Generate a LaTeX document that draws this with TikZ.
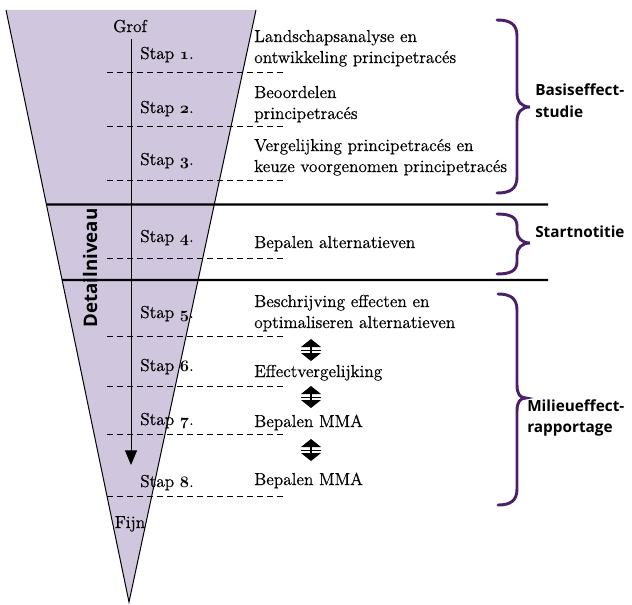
\documentclass[tikz,border=0pt]{standalone}
\usepackage{fontspec}
\newfontfamily\labelsans{Open Sans}
\newfontfamily\darkserif{Latin Modern Roman}[FakeBold=0.5]
\usetikzlibrary{arrows.meta,calc}
\definecolor{funnel}{HTML}{D0C7DE}
\definecolor{bracepurple}{HTML}{4B206B}
\newcommand{\osn}[1]{{\usefont{OML}{cmm}{b}{it}#1}}
\tikzset{
  serif/.style={font=\darkserif\fontsize{13}{15.75}\selectfont, inner sep=0pt},
  txt/.style={serif, anchor=base west},
  lab/.style={font=\labelsans\bfseries\fontsize{11.5}{16}\selectfont, inner sep=0pt, anchor=base west},
  dashline/.style={line width=0.75pt, dash pattern=on 4.5pt off 3pt},
  heavy/.style={line width=1.8pt},
  brc/.style={draw=bracepurple, line width=2.2pt, line cap=round},
  updown/.pic={
    \fill (-10,-3) -- (10,-3) -- (0,-11) -- cycle;
    \fill (-10,3) -- (10,3) -- (0,11) -- cycle;
    \draw[line width=0.6pt] (-10,0) -- (10,0);
    \draw[line width=0.8pt] (0,-3) -- (0,3);
  }
}
\begin{document}
\begin{tikzpicture}[x=0.75pt,y=-0.75pt]
\useasboundingbox (0,0) rectangle (632,604);
% funnel
\coordinate (tl) at (6,10);
\coordinate (tr) at (256,10);
\coordinate (apex) at (129,602);
\fill[funnel] (tl) -- (tr) -- (apex) -- cycle;
\draw[line width=0.75pt] (tl) -- (apex) -- (tr);
% dashed lines
\foreach \i/\yy in {1/72,2/126,3/180,4/258,5/336,6/386,7/434,8/496}{
  \coordinate (dL\i) at (107,\yy);
  \coordinate (dR\i) at (287,\yy);
  \draw[dashline] (dL\i) -- (dR\i);
}
% solid lines
\coordinate (s1l) at ($(tl)!0.3285!(apex)$);
\coordinate (s1r) at (548,204.5);
\coordinate (s2l) at ($(tl)!0.4561!(apex)$);
\coordinate (s2r) at (548,280);
\draw[heavy] (s1l) -- (s1r);
\draw[heavy] (s2l) -- (s2r);
% vertical arrow
\coordinate (vtop) at (131,39);
\coordinate (vtip) at (131,465);
\draw[line width=0.75pt, -{Triangle[width=9pt,length=11pt]}] (vtop) -- (vtip);
% Detailniveau
\node[font=\labelsans\bfseries\fontsize{14}{16}\selectfont, inner sep=0pt, rotate=90] (detail) at (90,268) {Detailniveau};
% Grof / Fijn
\node[serif, anchor=base] (grof) at (130,32) {Grof};
\node[serif, anchor=base] (fijn) at (130,528) {Fijn};
% Stap labels
\node[txt] (st1) at (140,59) {Stap \osn{1}.};
\node[txt] (st2) at (140,113) {Stap \osn{2}.};
\node[txt] (st3) at (140,165) {Stap \osn{3}.};
\node[txt] (st4) at (140,242) {Stap \osn{4}.};
\node[txt] (st5) at (140,318) {Stap \osn{5}.};
\node[txt] (st6) at (140,371) {Stap \osn{6}.};
\node[txt] (st7) at (140,425) {Stap \osn{7}.};
\node[txt] (st8) at (140,487) {Stap \osn{8}.};
% right texts
\node[txt] (r1a) at (254,42) {Landschapsanalyse en};
\node[txt] (r1b) at (254,63) {ontwikkeling principetracés};
\node[txt] (r2a) at (254,98) {Beoordelen};
\node[txt] (r2b) at (254,119) {principetracés};
\node[txt] (r3a) at (254,151) {Vergelijking principetracés en};
\node[txt] (r3b) at (254,172) {keuze voorgenomen principetracés};
\node[txt] (r4) at (254,248) {Bepalen alternatieven};
\node[txt] (r5a) at (254,307) {Beschrijving effecten en};
\node[txt] (r5b) at (254,328) {optimaliseren alternatieven};
\node[txt] (r6) at (254,377) {Effectvergelijking};
\node[txt] (r7) at (254,427) {Bepalen MMA};
\node[txt] (r8) at (254,485) {Bepalen MMA};
% double arrows
\pic (da1) at (311,350) {updown};
\pic (da2) at (311,397) {updown};
\pic (da3) at (311,450) {updown};
% braces
\draw[brc] (497,20) .. controls (510,20) and (517,24) .. (517,36) -- (517,93)
  .. controls (517,102) and (522,107) .. (530,107)
  .. controls (522,107) and (517,112) .. (517,121) -- (517,177)
  .. controls (517,189) and (510,193) .. (497,193);
\draw[brc] (497,214) .. controls (510,214) and (517,217) .. (517,226) -- (517,231)
  .. controls (517,238) and (522,243) .. (530,243)
  .. controls (522,243) and (517,248) .. (517,255) -- (517,262)
  .. controls (517,271) and (510,274) .. (497,274);
\draw[brc] (498,294) .. controls (510,294) and (517,298) .. (517,310) -- (517,385)
  .. controls (517,394) and (520,398) .. (526,398)
  .. controls (520,398) and (517,402) .. (517,411) -- (517,489)
  .. controls (517,501) and (510,505) .. (498,505);
% brace labels
\node[lab] (b1a) at (535,95) {Basiseffect-};
\node[lab] (b1b) at (535,117) {studie};
\node[lab] (b2) at (535,237) {Startnotitie};
\node[lab] (b3a) at (527,411) {Milieueffect-};
\node[lab] (b3b) at (527,432) {rapportage};
\end{tikzpicture}
\end{document}
